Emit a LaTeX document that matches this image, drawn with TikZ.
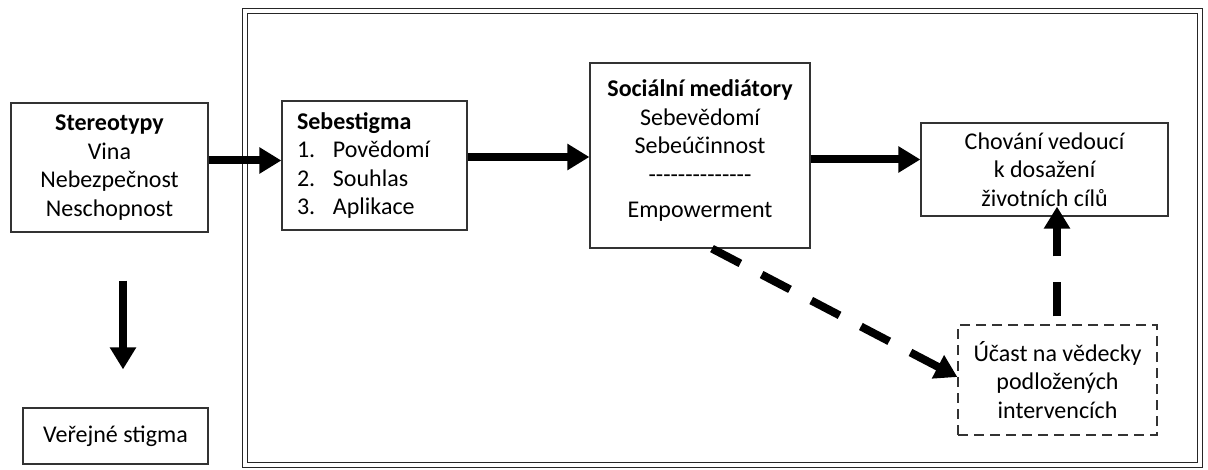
\documentclass[tikz,border=0pt]{standalone}
\usepackage{fontspec}
\setmainfont{Carlito}[Ligatures=TeXOff]
\usetikzlibrary{arrows.meta, positioning}

\begin{document}
\begin{tikzpicture}[x=0.5pt, y=-0.5pt, font=\fontsize{12}{14.3}\selectfont]

\tikzstyle{box}=[rectangle,draw=black!80,line width=0.6pt,align=center,inner sep=0pt]
\tikzstyle{dashbox}=[box,dash pattern=on 5pt off 3pt]
\tikzstyle{arr}=[-{Triangle[length=11pt,width=12.5pt]},line width=4pt]
\tikzstyle{dasharr}=[arr,dash pattern=on 16pt off 12pt]

\useasboundingbox (0,0) rectangle (1208,470);
\draw[black!85,line width=0.6pt,double,double distance=1.6pt] (245,11) rectangle (1200,465);

\node[box,minimum width=98.5pt,minimum height=64.5pt] (ster) at (109.5,167.5) {\textbf{Stereotypy}\\Vina\\Nebezpečnost\\Neschopnost};
\node[box,minimum width=92.5pt,minimum height=28pt] (verej) at (115.5,436) {Veřejné stigma};
\node[box,minimum width=92.5pt,minimum height=64.5pt,text width=77.5pt,align=left] (sebe) at (374.5,165.5) {\textbf{Sebestigma}\\\makebox[18pt][l]{1.}Povědomí\\\makebox[18pt][l]{2.}Souhlas\\\makebox[18pt][l]{3.}Aplikace};
\node[box,minimum width=110pt,minimum height=92.5pt,text depth=7pt] (soc) at (700,155.5) {\textbf{Sociální mediátory}\\Sebevědomí\\Sebeúčinnost\\--------------\\[3pt]Empowerment};
\node[box,minimum width=123.5pt,minimum height=46.5pt] (chov) at (1044.5,169.5) {Chování vedoucí\\k dosažení\\životních cílů};
\node[dashbox,minimum width=99.5pt,minimum height=55pt] (ucast) at (1057.5,380) {Účast na vědecky\\podložených\\intervencích};

\draw[arr] ([yshift=3.5pt]ster.east) -- ([yshift=3.5pt]ster.east -| sebe.west);
\draw[arr] ([yshift=4.25pt]sebe.east) -- ([yshift=4.25pt]sebe.east -| soc.west);
\draw[arr] ([yshift=5pt]chov.west -| soc.east) -- ([yshift=5pt]chov.west);
\draw[arr,shorten <=24pt,shorten >=19pt] ([xshift=6.75pt]ster.south) -- ([xshift=6.75pt]ster.south |- verej.north);
\draw[dasharr] ([xshift=6pt]soc.south) -- ([yshift=1.5pt]ucast.west);
\draw[arr,dash pattern=on 17pt off 13pt,shorten <=4pt,shorten >=-5pt] ([xshift=-0.25pt]ucast.north) -- ([xshift=-0.25pt]ucast.north |- chov.south);
\end{tikzpicture}
\end{document}
